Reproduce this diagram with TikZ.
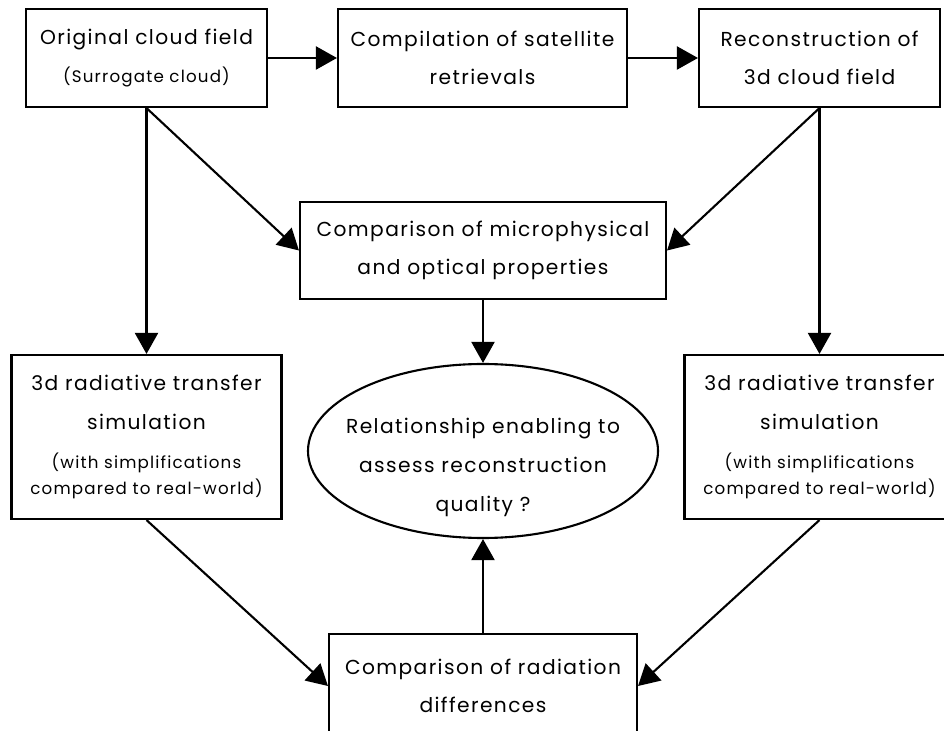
\documentclass[tikz,border=0pt]{standalone}
\usepackage{fontspec}
\setmainfont{Poppins}[LetterSpace=7]
\usetikzlibrary{arrows.meta,shapes.geometric}
\newcommand{\subtext}{\fontsize{9.5}{15}\selectfont}

\begin{document}
\begin{tikzpicture}
		[
			scale=1.00,
			box/.style = {rectangle, align=center, draw=black, line width=1.2pt, fill=none, font=\fontsize{11.5}{22}\selectfont},
			relnode/.style = {ellipse, draw=black, line width=1.2pt, fill=none, minimum width=7.0cm, minimum height=3.48cm},
			arr/.style = {line width=1.2pt, -{Triangle[length=0.42cm, width=0.46cm]}},
		]
		\useasboundingbox (0,0) rectangle (18.88,-14.62);

		% boxes
		\node[box, minimum width=4.82cm, minimum height=1.96cm] (orig) 	at (  2.93,  -1.16 ) {Original cloud field\\{\subtext (Surrogate cloud)}};
		\node[box, minimum width=5.78cm, minimum height=1.96cm] (comp) 	at (  9.65,  -1.16 ) {Compilation of satellite\\retrievals};
		\node[box, minimum width=4.82cm, minimum height=1.96cm] (recon) 	at ( 16.39,  -1.16 ) {Reconstruction of\\3d cloud field};
		\node[box, minimum width=7.32cm, minimum height=1.94cm] (micro) 	at (  9.66,  -5.01 ) {Comparison of microphysical\\and optical properties};
		\node[box, minimum width=5.40cm, minimum height=3.28cm] (rtleft) 	at (  2.93,  -8.74 ) {3d radiative transfer\\simulation\\{\subtext (with simplifications}\\[-7pt]{\subtext compared to real-world)}};
		\node[box, minimum width=5.40cm, minimum height=3.28cm] (rtright) 	at ( 16.39,  -8.74 ) {3d radiative transfer\\simulation\\{\subtext (with simplifications}\\[-7pt]{\subtext compared to real-world)}};
		\node[box, minimum width=6.16cm, minimum height=2.08cm] (raddiff) 	at (  9.66, -13.72 ) {Comparison of radiation\\differences};

		% central question
		\node[relnode] (rel) 	at (  9.66,  -9.02 ) {};
		\node[align=center, font=\fontsize{11.5}{22}\selectfont] (reltext) 	at ([yshift=-0.33cm]rel.center) {Relationship enabling to\\assess reconstruction\\quality ?};

		\foreach \from/\to in {orig.east/comp.west,comp.east/recon.west,orig.south/micro.west,orig.south/rtleft.north,recon.south/micro.east,recon.south/rtright.north,micro.south/rel.north,rtleft.south/raddiff.west,rtright.south/raddiff.east,raddiff.north/rel.south}
		\draw[arr] (\from) -- (\to);

\end{tikzpicture}
\end{document}
